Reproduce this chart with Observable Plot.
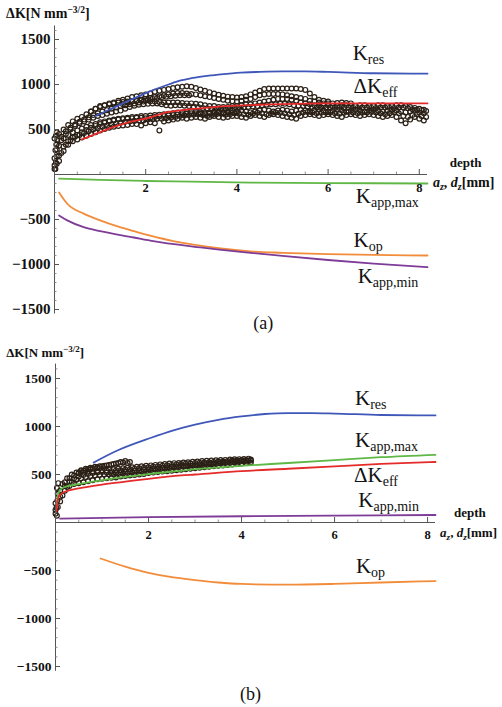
<!DOCTYPE html>
<html><head><meta charset="utf-8">
<script src="https://cdn.jsdelivr.net/npm/d3@7"></script>
<script src="https://cdn.jsdelivr.net/npm/@observablehq/plot@0.6"></script>
<style>
body{margin:0;background:#fff;}
#wrap{position:relative;width:502px;height:707px;}
#wrap svg{position:absolute;left:0;overflow:visible;}
</style></head><body><div id="wrap"></div>
<script>
// ---------- Panel (a) curves ----------
const aResX = [0.9,1.2,1.5,2,2.5,2.77,3,3.5,4,4.5,5,5.5,6,7,8.18];
const aResY = [650,720,790,905,1000,1045,1070,1105,1130,1140,1145,1145,1140,1125,1120];
const aEffX = [0.6,0.8,1,1.4,1.7,2.1,2.5,2.8,3.2,3.6,4,4.5,5,5.5,6,7,8.18];
const aEffY = [390,430,470,545,590,635,695,715,735,755,765,775,783,788,790,790,790];
const aMaxX = [0.1,1,2,3,4.3,6,8.18];
const aMaxY = [-45,-60,-72,-80,-90,-95,-100];
const aOpX = [0.1,0.28,0.64,1,1.4,1.74,2.1,2.6,3.2,3.7,4.3,5,6,7,8.18];
const aOpY = [-200,-325,-435,-510,-580,-630,-680,-740,-790,-825,-855,-870,-885,-893,-900];
const aMinX = [0.1,0.28,0.64,1,1.74,2.1,3.2,4.3,5,6,7,8.18];
const aMinY = [-455,-510,-585,-630,-700,-735,-810,-870,-905,-950,-990,-1030];

// ---------- Panel (a) measured points (tracks sampled every 0.1 mm) ----------
const aTrack1Start = 0, aTrack1 = [60,150,260,330,370,390,410,430,450,470, 490,505,520,530,540,545,550,560,560,545, 570,580,570,490,590,600,610,620,630,620, 630,640,630,620,640,650,640,630,640,650, 650,640,630,650,660,650,640,660,670,660, 650,640,630,620,650,660,670,660,650,660, 670,660,650,640,660,670,660,650,660,670, 660,650,640,650,660,640,600,570,610,640, 620,600];
const aTrack2Start = 0, aTrack2 = [180,320,400,440,470,490,510,530,550,560, 580,590,600,610,620,625,630,640,640,650, 650,655,660,665,670,675,680,690,690,695, 700,700,690,680,690,700,700,690,700,710, 700,710,700,690,700,710,720,710,700,710, 720,710,700,710,720,710,700,710,720,710, 700,710,720,710,700,710,720,710,700,710, 720,710,700,710,720,710,700,690,700,710, 690,680];
const aTrack3Start = 0, aTrack3 = [400,450,500,550,590,620,640,670,700,730, 760,770,780,790,800,805,810,815,820,825, 820,815,810,805,800,800,800,800,795,790, 790,785,780,770,760,760,750,750,750,760, 760,770,780,780,790,800,810,820,830,840, 840,840,830,820,800,790,780,770,770,770, 770,760,760,770,770,760,760,770,770,760, 760,770,770,760,760,770,770,760,750,740, 730,720];
const aTrack4Start = 0.8, aTrack4 = [700,730, 750,770,790,800,820,830,845,860,870,880, 890,900,920,930,940,950,960,970,975,980, 975,960,945,930,915,900,885,875,865,860, 855,860,870,890,910,930,950,955,955,955, 955,955,955,955,950,940,900,860,830,820, 810];
const aTrack5Start = 1.5, aTrack5 = [780,800,810,820,830, 840,850,860,870,880,890,900,905,905,900, 895,890,880,870,860,850,840,830,820,815, 810,820,830,840,860,880,890,895,895,895, 890,880,870,860,850,840,820,810,800,790, 790,790,795,800,795,790];
const aTrack6Start = 0.05, aTrack6 = [120,240,330,380,420,440,460,480,500,515, 530,540,555,565,575,585,590,595,600,600, 610,615,620,620,625,630,640,650,655,660, 665,670,660,650,660,670,675,665,670,680, 675,670,665,675,685,680,670,680,690,685, 680,670,660,675,690,695,690,680,685,690, 690,680,675,685,695,690,680,685,690,695, 690,680,670,680,690,680,650,640,660,670, 650,640];
const aTrack7Start = 0.05, aTrack7 = [280,380,450,500,540,570,590,610,630,650, 660,675,690,700,710,730,750,765,775,780, 785,790,790,780,770,765,770,770,765,760, 755,750,740,735,730,730,725,725,730,735, 740,745,750,755,760,770,775,780,780,785, 785,780,770,765,760,755,750,745,745,745, 745,740,740,745,745,740,740,745,745,740, 740,745,745,740,740,745,745,735,725,720, 715,705];
const aTrack8Start = 0, aTrack8 = [100,210,310,370,410,440,470,495,520,540, 560,575,590,600,610,615,620,625,630,630, 625,630,640,645,650,655,660,665,670,675, 680,680,675,670,675,680,685,680,685,690, 690];
const aTrack9Start = 0.05, aTrack9 = [340,420,480,520,555,585,610,635,660,680, 700,715,730,745,760,770,780,790,800,810, 830,840,850,860,865,870,875,880,880,880];
const aColX = [0.02,0.03,0.05,0.02,0.04,0.06,0.03,0.05];
const aColY = [60,130,200,270,330,380,430,470];

// ---------- Panel (b) curves ----------
const bResX = [0.82,1.33,2.04,2.5,3,3.5,4,4.5,5,5.5,6,7,8.17];
const bResY = [625,750,880,955,1020,1070,1105,1130,1140,1140,1135,1120,1115];
const bMaxX = [0.02,0.05,0.1,0.2,0.5,1,1.5,2,2.7,3,4,5,6,7,8.17];
const bMaxY = [150,280,340,370,400,440,475,505,540,555,590,620,650,680,705];
const bEffX = [0.02,0.05,0.1,0.2,0.5,1,1.5,2,2.7,3,4,5,6,7,8.17];
const bEffY = [120,240,290,320,355,395,425,455,490,500,535,560,585,610,630];
const bMinX = [0.1,2,4,6,8.17];
const bMinY = [40,55,65,72,78];
const bOpX = [0.97,1.5,2,2.5,3,3.5,4,5,6,7,8.17];
const bOpY = [-375,-460,-525,-570,-600,-625,-640,-648,-640,-625,-610];

// ---------- Panel (b) measured points ----------
const bTrack1Start = 0, bTrack1 = [90,220,330,380,400,410,420,430,440,450, 455,460,465,470,480,485,490,495,500,505, 515,520,525,530,535,540,545,550,555,560, 565,570,575,580,585,590,595,600,605,610, 615,620,625];
const bTrack2Start = 0, bTrack2 = [200,330,420,460,490,510,520,530,535,540, 545,540,535,540,545,550,555,560,565,570, 575,580,585,590,595,600,605,610,612,615, 620,622,625,628,630,635,638,640,645,648, 650,652,655];
const bTrack3Start = 0.5, bTrack3 = [520,540,555,565,575,585,595,605,615,630,640,630];
const bTrack4Start = 0.05, bTrack4 = [160,280,370,420,445,460,475,485,490,495, 500,500,500,505,510,515,520,525,530,535, 545,550,555,560,565,570,575,580,585,590, 590,595,600,605,610,615,620,620,625,630, 635,640];
const bTrack5Start = 0.55, bTrack5 = [545,560,570,580,585,590,600,610,620,625,620];
const bTrack6Start = 0, bTrack6 = [130,270,380,430,460,480,495,505,515,520, 525,520,515,520,525,530,535,540,545,550, 555,560,565,570,575,580,585,590,592,595, 600,605,610,612,615,620,625,628,632,636, 640,642,645];
const bTrack7Start = 0.05, bTrack7 = [300,400,460,500,520,535,545,555,560,565, 565,560,555,560,565,570,575,580,585,590, 595,600,605,610,615,618,620,625,628,632, 636,640,642,645,648,650,652,655,658,660, 662,665];
const bColX = [0.03,0.02,0.04,0.05,0.03,0.06];
const bColY = [70,150,230,300,360,410];

// ---------- axis ticks ----------
const yMajor = [-1500,-1000,-500,500,1000,1500];
const xMajor = [2,4,6,8];

const colors = {res:"#3f57b8", eff:"#e52a2a", max:"#5fb845", op:"#f28c3a", min:"#7e3b98"};
const ink = "#2b2016";
const serif = "'Liberation Serif', 'Times New Roman', serif";

const pts = (xs, ys) => xs.map((x,i)=>({x, y: ys[i]}));
const track = (start, ys) => ys.map((y,i)=>({x: Math.round((start + i*0.1)*100)/100, y}));

function panel({xmax, height, ml, mr, mt, mb, curves, scatter, tickFont, xTickDy}) {
  const pxPerX = (502 - ml - mr) / xmax;
  const pxPerY = (height - mt - mb) / 3200;
  const yMinor = d3.range(-1500, 1601, 100).filter(v => v % 500 !== 0);
  const xMinor = d3.range(0.5, xmax, 0.5).filter(v => v % 2 !== 0);
  return Plot.plot({
    width: 502, height, marginLeft: ml, marginRight: mr, marginTop: mt, marginBottom: mb,
    style: {fontFamily: serif, background: "white"},
    x: {domain: [0, xmax], axis: null},
    y: {domain: [-1550, 1650], axis: null},
    marks: [
      Plot.dot(scatter, {x:"x", y:"y", r: 2.4, stroke: ink, strokeWidth: 1.2, fill: "none"}),
      ...curves.map(c => Plot.line(c.data, {x:"x", y:"y", stroke: c.color, strokeWidth: 1.8, curve: "monotone-x"})),
      Plot.ruleX([0], {y1: -1550, y2: 1650, stroke: "#555", strokeWidth: 1}),
      Plot.ruleY([0], {x1: 0, x2: xmax, stroke: "#555", strokeWidth: 1}),
      Plot.ruleY(yMajor, {x1: 0, x2: 5/pxPerX, stroke: "#555", strokeWidth: 1}),
      Plot.ruleY(yMinor, {x1: 0, x2: 2.5/pxPerX, stroke: "#777", strokeWidth: 0.8}),
      Plot.ruleX(xMajor, {y1: 0, y2: 5/pxPerY, stroke: "#555", strokeWidth: 1}),
      Plot.ruleX(xMinor, {y1: 0, y2: 2.5/pxPerY, stroke: "#777", strokeWidth: 0.8}),
      Plot.text(yMajor, {x: 0, y: d=>d, text: d => (d<0 ? "\u2212" + Math.abs(d) : String(d)), textAnchor: "end", dx: -4, fontSize: tickFont, fontWeight: "bold", fontFamily: serif, fill: "#111"}),
      Plot.text(xMajor, {x: d=>d, y: 0, text: d=>String(d), dy: xTickDy, fontSize: 12.5, fontWeight: "bold", fontFamily: serif, fill: "#111"})
    ]
  });
}

function label(svg, x, y, parts, base, opts = {}) {
  const sx = svg.scale("x").apply(x), sy = svg.scale("y").apply(y);
  const t = d3.select(svg).append("text").attr("x", sx).attr("y", sy)
    .attr("text-anchor", "start")
    .attr("font-family", serif).attr("font-size", base).attr("fill", "#111")
    .attr("font-weight", opts.bold ? "bold" : "normal");
  let shift = 0;
  for (const p of parts) {
    const size = p.sub || p.sup ? (opts.subSize || base*0.66) : base;
    const want = p.sub ? (opts.subShift || base*0.25) : p.sup ? -(opts.supShift || base*0.4) : 0;
    const ts = t.append("tspan").attr("dy", want - shift).attr("font-size", size).text(p.t);
    if (p.it) ts.attr("font-style", "italic");
    shift = want;
  }
}

const wrap = document.getElementById("wrap");

// Panel (a)
const A = panel({
  xmax: 8.18, height: 335, ml: 54, mr: 75, mt: 25.5, mb: 21.5, tickFont: 15, xTickDy: 13,
  curves: [
    {data: pts(aResX, aResY), color: colors.res},
    {data: pts(aEffX, aEffY), color: colors.eff},
    {data: pts(aMaxX, aMaxY), color: colors.max},
    {data: pts(aOpX, aOpY), color: colors.op},
    {data: pts(aMinX, aMinY), color: colors.min}
  ],
  scatter: [...track(aTrack1Start, aTrack1), ...track(aTrack2Start, aTrack2), ...track(aTrack3Start, aTrack3),
            ...track(aTrack4Start, aTrack4), ...track(aTrack5Start, aTrack5), ...track(aTrack6Start, aTrack6),
            ...track(aTrack7Start, aTrack7), ...track(aTrack8Start, aTrack8), ...track(aTrack9Start, aTrack9),
            ...pts(aColX, aColY)]
});
A.style.top = "0px";
wrap.appendChild(A);

// Panel (b)
const B = panel({
  xmax: 8.17, height: 367, ml: 55, mr: 67, mt: 23.6, mb: 36.2, tickFont: 13.5, xTickDy: 12,
  curves: [
    {data: pts(bResX, bResY), color: colors.res},
    {data: pts(bMaxX, bMaxY), color: colors.max},
    {data: pts(bEffX, bEffY), color: colors.eff},
    {data: pts(bMinX, bMinY), color: colors.min},
    {data: pts(bOpX, bOpY), color: colors.op}
  ],
  scatter: [...track(bTrack1Start, bTrack1), ...track(bTrack2Start, bTrack2), ...track(bTrack3Start, bTrack3),
            ...track(bTrack4Start, bTrack4), ...track(bTrack5Start, bTrack5), ...track(bTrack6Start, bTrack6),
            ...track(bTrack7Start, bTrack7), ...pts(bColX, bColY)]
});
B.style.top = "340px";
wrap.appendChild(B);

const K = 21, S = 14;
// Panel (a) labels
label(A, 6.55, 1267, [{t:"K"},{t:"res", sub:true}], K, {subSize:S, subShift:4});
label(A, 6.57, 900, [{t:"\u0394K"},{t:"eff", sub:true}], K, {subSize:S, subShift:4});
label(A, 6.62, -322, [{t:"K"},{t:"app,max", sub:true}], K, {subSize:S, subShift:4});
label(A, 6.57, -811, [{t:"K"},{t:"op", sub:true}], K, {subSize:S, subShift:4});
label(A, 6.66, -1211, [{t:"K"},{t:"app,min", sub:true}], K, {subSize:S, subShift:4});
label(A, 4.37, -1722, [{t:"(a)"}], 18);
label(A, -1.05, 1733, [{t:"\u0394K[N mm"},{t:"\u22123/2", sup:true},{t:"]"}], 14, {bold:true, subSize:9.5, supShift:5});
label(A, 8.68, 78, [{t:"depth"}], 13, {bold:true});
label(A, 8.31, -144, [{t:"a", it:true},{t:"z", it:true, sub:true},{t:", "},{t:"d", it:true},{t:"z", it:true, sub:true},{t:"[mm]"}], 14, {bold:true, subSize:10, subShift:3});

// Panel (b) labels
label(B, 6.45, 1219, [{t:"K"},{t:"res", sub:true}], K, {subSize:S, subShift:4});
label(B, 6.45, 781, [{t:"K"},{t:"app,max", sub:true}], K, {subSize:S, subShift:4});
label(B, 6.43, 417, [{t:"\u0394K"},{t:"eff", sub:true}], K, {subSize:S, subShift:4});
label(B, 6.52, 156, [{t:"K"},{t:"app,min", sub:true}], K, {subSize:S, subShift:4});
label(B, 6.47, -531, [{t:"K"},{t:"op", sub:true}], K, {subSize:S, subShift:4});
label(B, 3.98, -1854, [{t:"(b)"}], 18);
label(B, -1.05, 1719, [{t:"\u0394K[N mm"},{t:"\u22123/2", sup:true},{t:"]"}], 13, {bold:true, subSize:9, supShift:5});
label(B, 8.58, 52, [{t:"depth"}], 13, {bold:true});
label(B, 8.28, -156, [{t:"a", it:true},{t:"z", it:true, sub:true},{t:", "},{t:"d", it:true},{t:"z", it:true, sub:true},{t:"[mm]"}], 13, {bold:true, subSize:9, subShift:3});
</script></body></html>
